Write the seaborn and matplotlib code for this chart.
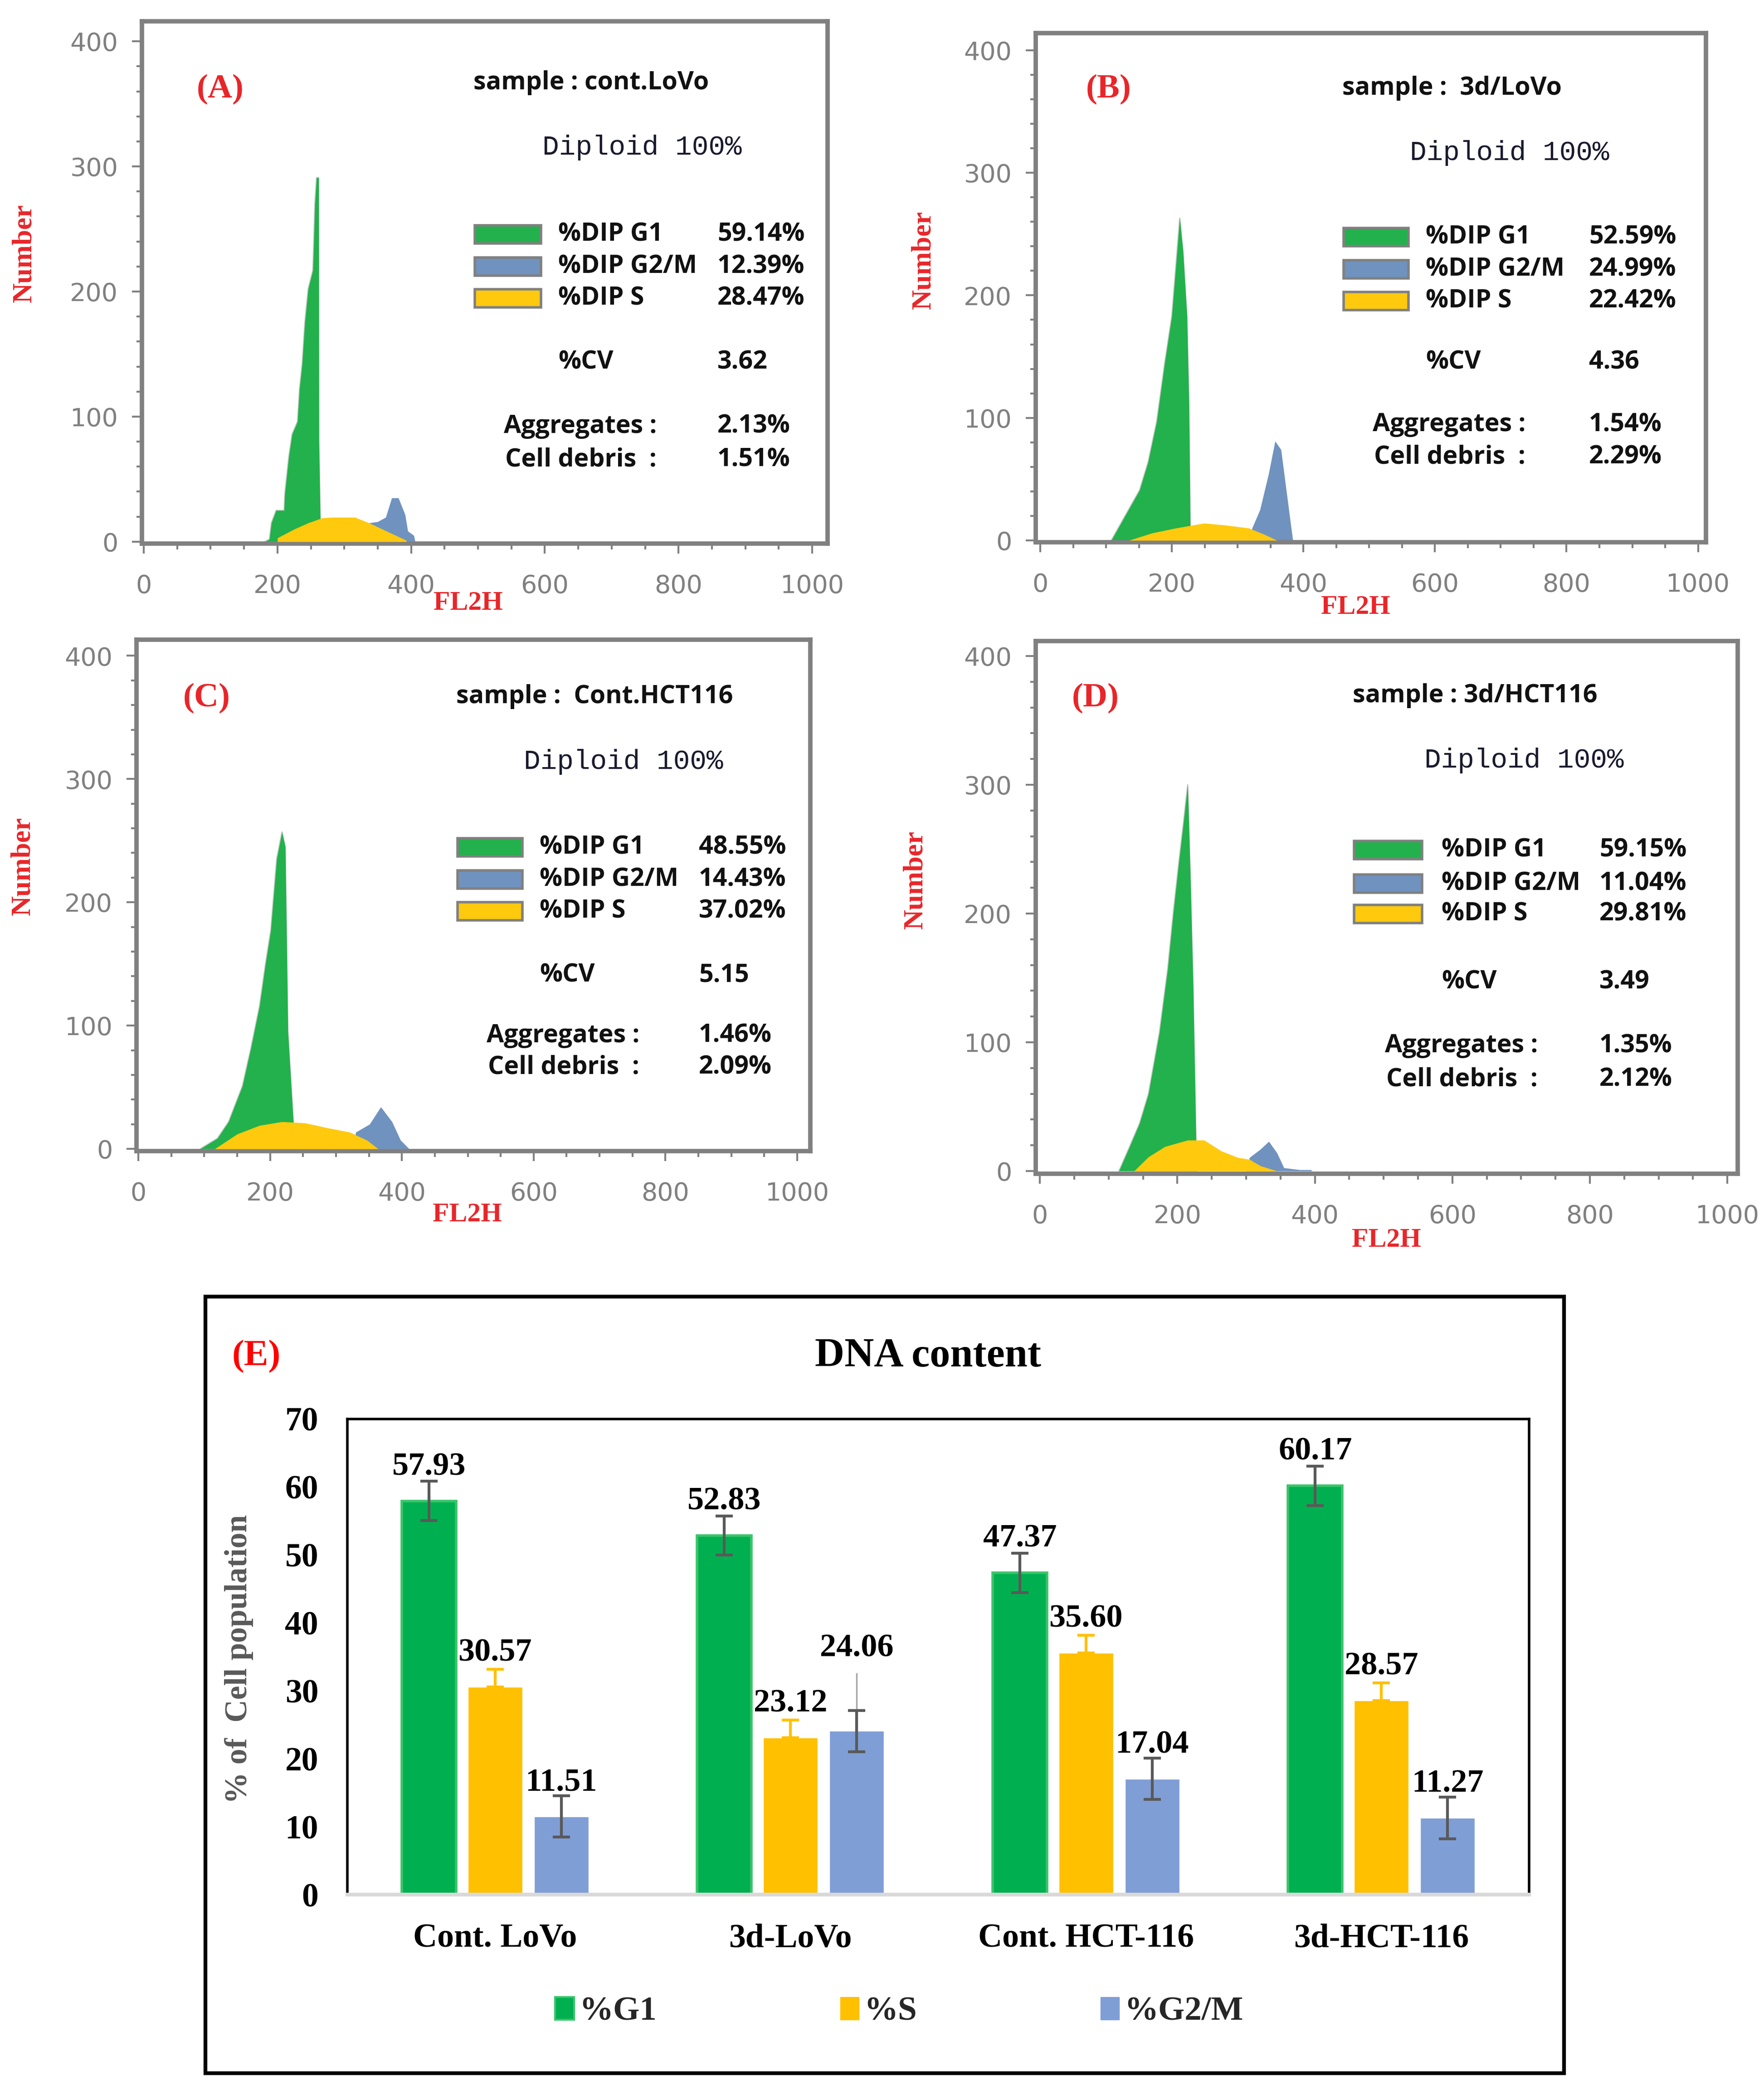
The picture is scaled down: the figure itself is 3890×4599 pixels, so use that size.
import numpy as np
import pandas as pd
import matplotlib
matplotlib.use('Agg')
import matplotlib.pyplot as plt
from matplotlib.patches import Rectangle, Patch
from matplotlib.ticker import MultipleLocator
from matplotlib import font_manager
import seaborn as sns

# ---------------------------------------------------------------- data
# Flow-cytometry DNA histograms (FL2H vs. number of events)
A_g1_x = [181, 188, 191, 198, 210, 211, 217, 222, 230, 233, 237, 241, 246, 253, 254, 256, 258.5, 261.6, 262, 264, 265]
A_g1_y = [0, 2, 15, 25, 25, 38, 68, 86, 96, 122, 142, 175, 202, 217, 233, 270, 291, 291, 81, 19.5, 0]
A_s_x = [200, 225, 246, 267, 282, 316, 337, 363, 393]
A_s_y = [3, 10, 15, 19, 19.5, 19.5, 15, 8.5, 1]
A_g2_x = [337, 350, 362, 371, 381, 391, 395, 404, 406]
A_g2_y = [15, 16, 19.5, 35, 35, 21.5, 8.5, 5, 0]

B_g1_x = [108, 130, 151, 164, 177, 189, 200, 205, 212, 217, 223, 226, 228, 228.5]
B_g1_y = [0, 21, 41, 64, 97, 144, 183, 216, 263, 236, 183, 111, 12, 0]
B_s_x = [135, 170, 206, 249, 280, 317, 340, 360]
B_s_y = [0, 6, 10, 14, 12.5, 10, 5, 0]
B_g2_x = [318, 322, 334, 347, 357, 366, 373, 381, 384]
B_g2_y = [0, 10, 25, 54, 81, 74, 45, 12, 0]

C_g1_x = [94, 120, 137, 158, 171, 184, 193, 201, 210, 218, 223, 227, 235, 237]
C_g1_y = [0, 8.5, 22, 51, 82, 116, 150, 177, 235, 257, 245, 95, 24, 0]
C_s_x = [116, 150, 184, 218, 253, 287, 321, 347, 364]
C_s_y = [0, 12, 19, 22, 21, 17, 13.5, 7, 0]
C_g2_x = [325, 330, 351, 368, 385, 398, 411]
C_g2_y = [0, 13.5, 20, 34, 22, 7, 0]

D_g1_x = [115, 129, 145, 158, 174, 186, 194, 202, 209, 215, 219, 223, 227, 228]
D_g1_y = [0, 17, 37, 60, 108, 157, 200, 239, 271, 300, 226, 141, 27, 0]
D_s_x = [137, 158, 182, 215, 239, 264, 288, 305, 321, 345]
D_s_y = [0, 11, 19, 24, 24, 15.5, 10.5, 9, 4, 0]
D_g2_x = [300, 305, 321, 333, 345, 355, 378, 394, 396]
D_g2_y = [0, 10.5, 17, 23, 14, 2.5, 1, 1, 0]

panel_letters = ['(A)', '(B)', '(C)', '(D)']
samples = ['sample : cont.LoVo', 'sample :  3d/LoVo', 'sample :  Cont.HCT116', 'sample : 3d/HCT116']
dip_g1 = ['59.14%', '52.59%', '48.55%', '59.15%']
dip_g2m = ['12.39%', '24.99%', '14.43%', '11.04%']
dip_s = ['28.47%', '22.42%', '37.02%', '29.81%']
cv_vals = ['3.62', '4.36', '5.15', '3.49']
aggregates = ['2.13%', '1.54%', '1.46%', '1.35%']
debris = ['1.51%', '2.29%', '2.09%', '2.12%']
hist_yticks = [0, 100, 200, 300, 400]
hist_xticks = [0, 200, 400, 600, 800, 1000]

# DNA content summary (panel E)
groups = ['Cont. LoVo', '3d-LoVo', 'Cont. HCT-116', '3d-HCT-116']
phases = ['%G1', '%S', '%G2/M']
g1_pct = [57.93, 52.83, 47.37, 60.17]
s_pct = [30.57, 23.12, 35.60, 28.57]
g2m_pct = [11.51, 24.06, 17.04, 11.27]
g1_err = [2.9, 2.87, 2.9, 2.9]
s_err = [2.6, 2.6, 2.6, 2.58]
g2m_err = [3.05, 3.05, 3.05, 3.05]
g2m_extra_top = [None, 32.65, None, None]   # thin grey whisker on 3d-LoVo G2/M

# ---------------------------------------------------------------- style
sns.set_theme(style='white')
avail = {f.name for f in font_manager.fontManager.ttflist}
narrow = next((f for f in ['Liberation Sans Narrow', 'Open Sans', 'Roboto'] if f in avail), 'DejaVu Sans')
serif = 'Liberation Serif'
mono = 'Liberation Mono'
plt.rcParams['font.family'] = ['DejaVu Sans']

W, H = 3890, 4599
fig = plt.figure(figsize=(W / 100, H / 100), dpi=100)
fig.patch.set_facecolor('white')

def ftxt(x, y, s, **kw):
    kw.setdefault('va', 'center')
    fig.text(x / W, 1 - y / H, s, **kw)

def rect(l, t, r, b):
    return [l / W, 1 - b / H, (r - l) / W, (b - t) / H]

GREEN_H = '#22b14c'
BLUE_H = '#7092be'
YELLOW_H = '#ffc90e'
GREY = '#808080'
RED = '#e8262a'

hist_data = [
    (A_g1_x, A_g1_y, A_s_x, A_s_y, A_g2_x, A_g2_y),
    (B_g1_x, B_g1_y, B_s_x, B_s_y, B_g2_x, B_g2_y),
    (C_g1_x, C_g1_y, C_s_x, C_s_y, C_g2_x, C_g2_y),
    (D_g1_x, D_g1_y, D_s_x, D_s_y, D_g2_x, D_g2_y),
]

# layout of the four flow panels (pixel positions)
layouts = [
    dict(box=(313, 47, 1825, 1199), xlim=(-2.7, 1023), ylim=(-1.5, 416),
         letter=(486, 197), sample=(1044, 182), diploid=(1196, 326),
         patch_x=(1047, 1193), rows=(517, 588, 658), lab_x=1231, val_x=1582,
         cv_y=799, agg=(1111, 940), deb=(1114, 1014), number=(53, 558), fl2h=(1032, 1331)),
    dict(box=(2284, 73, 3762, 1196), xlim=(-6.9, 1012), ylim=(-1.5, 414),
         letter=(2445, 197), sample=(2960, 194), diploid=(3109, 338),
         patch_x=(2963, 3106), rows=(523, 594, 664), lab_x=3144, val_x=3504,
         cv_y=799, agg=(3027, 937), deb=(3030, 1008), number=(2036, 573), fl2h=(2989, 1340)),
    dict(box=(301, 1411, 1787, 2539), xlim=(-2.8, 1020), ylim=(-1.8, 413),
         letter=(456, 1540), sample=(1006, 1537), diploid=(1155, 1681),
         patch_x=(1009, 1152), rows=(1869, 1940, 2010), lab_x=1190, val_x=1541,
         cv_y=2151, agg=(1073, 2284), deb=(1076, 2354), number=(50, 1910), fl2h=(1030, 2680)),
    dict(box=(2284, 1414, 3832, 2589), xlim=(-6, 1015), ylim=(-2.1, 411.6),
         letter=(2416, 1540), sample=(2983, 1534), diploid=(3141, 1678),
         patch_x=(2986, 3136), rows=(1875, 1949, 2016), lab_x=3179, val_x=3527,
         cv_y=2166, agg=(3054, 2307), deb=(3057, 2381), number=(2018, 1940), fl2h=(3057, 2736)),
]

txt_kw = dict(family=[narrow, 'DejaVu Sans'], fontweight='bold', fontsize=40, color='#111111')

for i, (lay, dat) in enumerate(zip(layouts, hist_data)):
    g1x, g1y, sx, sy, g2x, g2y = dat
    ax = fig.add_axes(rect(*lay['box']))
    ax.set_facecolor('white')
    ax.fill_between(g1x, 0, g1y, color=GREEN_H, lw=0, zorder=2)
    ax.fill_between(g2x, 0, g2y, color=BLUE_H, lw=0, zorder=2)
    ax.fill_between(sx, 0, sy, color=YELLOW_H, lw=0, zorder=3)
    sns.lineplot(x=g1x, y=g1y, ax=ax, color='#c0c8c0', lw=2, zorder=1, sort=False)
    ax.set_xlim(*lay['xlim'])
    ax.set_ylim(*lay['ylim'])
    for sp in ax.spines.values():
        sp.set_color(GREY)
        sp.set_linewidth(7)
        sp.set_visible(True)
    ax.set_xticks(hist_xticks)
    ax.set_yticks(hist_yticks)
    ax.xaxis.set_minor_locator(MultipleLocator(50))
    ax.yaxis.set_minor_locator(MultipleLocator(20))
    ax.tick_params(axis='both', which='major', direction='out', length=16, width=3,
                   color=GREY, labelcolor=GREY, labelsize=40, bottom=True, left=True)
    ax.tick_params(axis='both', which='minor', direction='out', length=9, width=3,
                   color=GREY, bottom=True, left=True)
    ax.tick_params(axis='x', which='major', pad=32)
    ax.tick_params(axis='y', which='major', pad=22)
    ax.set_xlabel('')
    ax.set_ylabel('')
    ax.grid(False)

    # annotations
    ftxt(*lay['letter'], panel_letters[i], ha='center', family=serif, fontweight='bold',
         fontsize=54, color=RED)
    ftxt(*lay['sample'], samples[i], ha='left', **txt_kw)
    ftxt(*lay['diploid'], 'Diploid 100%', ha='left', family=mono, fontsize=44, color='#1a1a2e')
    cols = [GREEN_H, BLUE_H, YELLOW_H]
    labs = ['%DIP G1', '%DIP G2/M', '%DIP S']
    vals = [dip_g1[i], dip_g2m[i], dip_s[i]]
    px0, px1 = lay['patch_x']
    for yy, c, lb, vv in zip(lay['rows'], cols, labs, vals):
        fig.patches.append(Rectangle((px0 / W, 1 - (yy + 20) / H), (px1 - px0) / W, 40 / H,
                                     transform=fig.transFigure, facecolor=c,
                                     edgecolor=GREY, lw=4))
        ftxt(lay['lab_x'], yy, lb, ha='left', **txt_kw)
        ftxt(lay['val_x'], yy, vv, ha='left', **txt_kw)
    ftxt(lay['lab_x'], lay['cv_y'], '%CV', ha='left', **txt_kw)
    ftxt(lay['val_x'], lay['cv_y'], cv_vals[i], ha='left', **txt_kw)
    ftxt(*lay['agg'], 'Aggregates :', ha='left', **txt_kw)
    ftxt(lay['val_x'], lay['agg'][1], aggregates[i], ha='left', **txt_kw)
    ftxt(*lay['deb'], 'Cell debris  :', ha='left', **txt_kw)
    ftxt(lay['val_x'], lay['deb'][1], debris[i], ha='left', **txt_kw)
    ftxt(*lay['number'], 'Number', ha='center', rotation=90, family=serif,
         fontweight='bold', fontsize=44, color=RED)
    ftxt(*lay['fl2h'], 'FL2H', ha='center', family=serif, fontweight='bold',
         fontsize=43, color=RED)

# ---------------------------------------------------------------- panel E
GREEN = '#00b050'
YELLOW = '#ffc000'
BLUE = '#7f9ed5'
ERR = '#595959'

df = pd.DataFrame({
    'group': groups * 3,
    'phase': [phases[0]] * 4 + [phases[1]] * 4 + [phases[2]] * 4,
    'value': g1_pct + s_pct + g2m_pct,
})

axE = fig.add_axes(rect(766, 3130, 3372, 4179))
sns.barplot(data=df, x='group', y='value', hue='phase', order=groups, hue_order=phases,
            palette=[GREEN, YELLOW, BLUE], width=0.672, gap=0.18, errorbar=None,
            saturation=1, legend=False, ax=axE)
axE.set_xlim(-0.5, 3.5)
axE.set_ylim(0, 70)
axE.set_yticks(range(0, 71, 10))
axE.set_xlabel('')
axE.set_ylabel('')
for sp in ['top', 'left', 'right']:
    axE.spines[sp].set_color('black')
    axE.spines[sp].set_linewidth(4)
axE.spines['bottom'].set_color('#d9d9d9')
axE.spines['bottom'].set_linewidth(6)
axE.tick_params(axis='both', length=0)
axE.tick_params(axis='y', pad=46)
axE.tick_params(axis='x', pad=46)
for lab in axE.get_xticklabels() + axE.get_yticklabels():
    lab.set_family(serif)
    lab.set_fontweight('bold')
    lab.set_fontsize(53)
    lab.set_color('black')

vals_by_phase = [g1_pct, s_pct, g2m_pct]
errs_by_phase = [g1_err, s_err, g2m_err]
bar_conts = list(axE.containers)
for k, cont in enumerate(bar_conts):
    for j, bar in enumerate(cont.patches):
        xc = bar.get_x() + bar.get_width() / 2
        v = vals_by_phase[k][j]
        e = errs_by_phase[k][j]
        if k == 0:
            bar.set_edgecolor('#3cc46a')
            bar.set_linewidth(4)
        label_y = v
        if k == 1:
            axE.errorbar(xc, v, yerr=[[0], [e]], color=YELLOW, lw=4.5, capsize=14,
                         capthick=4.5, zorder=5)
        else:
            extra = g2m_extra_top[j] if k == 2 else None
            if extra is not None:
                axE.errorbar(xc, v, yerr=[[0], [extra - v]], color='#a6a6a6', lw=2.5,
                             capsize=0, zorder=4)
                label_y = extra - 1.4
            axE.errorbar(xc, v, yerr=e, color=ERR, lw=4.5, capsize=14, capthick=4.5, zorder=5)
        axE.annotate(f'{v:.2f}', (xc, label_y), xytext=(0, 54), textcoords='offset points',
                     ha='center', va='center', family=serif, fontweight='bold',
                     fontsize=52, color='black', zorder=6)

handles = [Patch(facecolor=GREEN, edgecolor='#3cc46a', lw=3),
           Patch(facecolor=YELLOW, edgecolor=YELLOW),
           Patch(facecolor=BLUE, edgecolor=BLUE)]
fig.legend(handles, phases, loc='center', bbox_to_anchor=(1983 / W, 1 - 4438 / H), ncol=3,
           frameon=False, columnspacing=5.4, handlelength=0.55, handleheight=0.65,
           handletextpad=0.15, prop=dict(family=serif, weight='bold', size=54))

ftxt(565, 2992, '(E)', ha='center', family=serif, fontweight='bold', fontsize=58, color='#ff0000')
ftxt(2047, 2992, 'DNA content', ha='center', family=serif, fontweight='bold', fontsize=65,
     color='black')
ftxt(527, 3659, '% of  Cell population', ha='center', rotation=90, family=serif,
     fontweight='bold', fontsize=50, color='#595959')

fig.patches.append(Rectangle((453 / W, 1 - 4573 / H), (3449 - 453) / W, (4573 - 2860) / H,
                             transform=fig.transFigure, fill=False, edgecolor='black', lw=6))

fig.savefig('out.png', dpi=100, facecolor='white')
